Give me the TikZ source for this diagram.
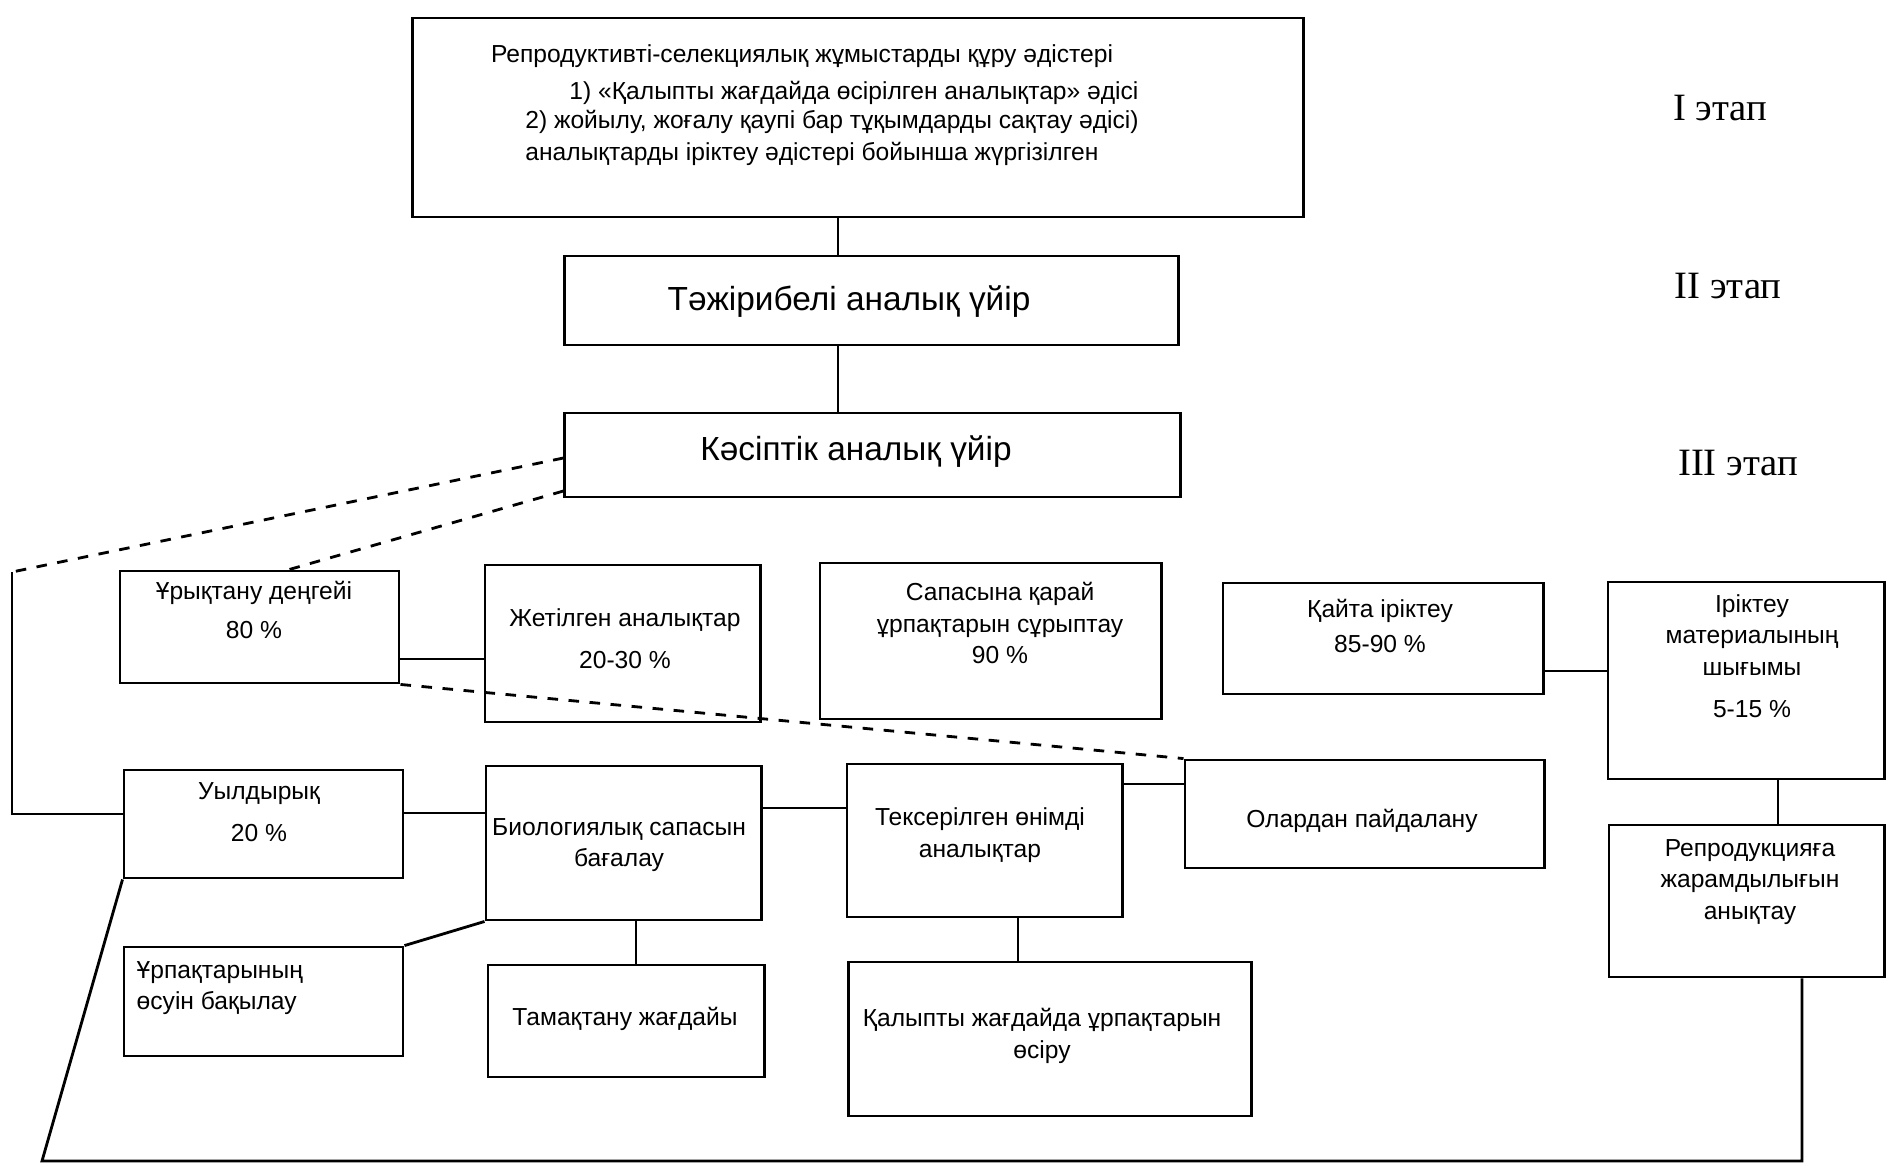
\documentclass[tikz,border=0pt]{standalone}
\usepackage{fontspec}
\setmainfont{Liberation Serif}
\newfontfamily\boxfont{Liberation Sans}
\usepackage{tikz}
\usetikzlibrary{positioning}
\tikzset{>=stealth}
\tikzset{
	box/.style={draw, line width=0.8pt, inner sep=0pt},
	txt/.style={font=\boxfont\fontsize{7}{9}\selectfont, align=center, inner sep=0pt},
	bigtxt/.style={font=\boxfont\fontsize{9.5}{11}\selectfont, inner sep=0pt},
	stage/.style={font=\fontsize{11}{13}\selectfont, inner sep=0pt},
	link/.style={line width=0.8pt},
	dlink/.style={line width=0.8pt, dashed}
}

\begin{document}
\begin{tikzpicture}[x=0.01cm, y=-0.01cm]
			\useasboundingbox (0,0) rectangle (1886,1169);
			% boxes
			\node[box, minimum width=8.90cm, minimum height=1.99cm] (top) at (858,117.5) {};
			\node[box, minimum width=6.13cm, minimum height=0.89cm] (tep) at (871.5,300.5) {};
			\node[box, minimum width=6.15cm, minimum height=0.84cm] (kas) at (872.5,455) {};
			\node[box, minimum width=2.79cm, minimum height=1.12cm] (uryq) at (259.5,627) {};
			\node[box, minimum width=2.75cm, minimum height=1.57cm] (zhet) at (622.5,643.5) {};
			\node[box, minimum width=3.41cm, minimum height=1.56cm] (sapa) at (990.5,641) {};
			\node[box, minimum width=3.20cm, minimum height=1.11cm] (qayta) at (1383,638.5) {};
			\node[box, minimum width=2.76cm, minimum height=1.97cm] (irik) at (1746,680.5) {};
			\node[box, minimum width=2.75cm, minimum height=1.52cm] (repr) at (1746.5,901) {};
			\node[box, minimum width=2.79cm, minimum height=1.08cm] (uyl) at (263.5,824) {};
			\node[box, minimum width=2.75cm, minimum height=1.54cm] (biol) at (623.5,843) {};
			\node[box, minimum width=2.75cm, minimum height=1.53cm] (teks) at (984.5,840.5) {};
			\node[box, minimum width=3.59cm, minimum height=1.08cm] (olar) at (1364.5,814) {};
			\node[box, minimum width=2.79cm, minimum height=1.09cm] (osu) at (263.5,1001.5) {};
			\node[box, minimum width=2.76cm, minimum height=1.12cm] (tamaq) at (626,1021) {};
			\node[box, minimum width=4.02cm, minimum height=1.54cm] (qalyp) at (1050,1039) {};
			% texts
			\node[txt] (t1) at (802,56.5) {Репродуктивті-селекциялық жұмыстарды құру әдістері};
			\node[txt] (t2) at (854,92.6) {1) «Қалыпты жағдайда өсірілген аналықтар» әдісі};
			\node[txt] (t3) at (832,121.5) {2) жойылу, жоғалу қаупі бар тұқымдарды сақтау әдісі)};
			\node[txt] (t4) at (812,154) {аналықтарды іріктеу әдістері бойынша жүргізілген};
			\node[bigtxt] (teptxt) at (849,302) {Тәжірибелі аналық үйір};
			\node[bigtxt] (kastxt) at (856,452) {Кәсіптік аналық үйір};
			\node[txt] (uryqtxt) at (254,610) {Ұрықтану деңгейі\\[2pt]80 \%};
			\node[txt] (zhettxt) at (625,639) {Жетілген аналықтар\\[3pt]20-30 \%};
			\node[txt] (sapatxt) at (1000,623) {Сапасына қарай\\ұрпақтарын сұрыптау\\90 \%};
			\node[txt] (qaytatxt) at (1380,626) {Қайта іріктеу\\[1pt]85-90 \%};
			\node[txt] (iriktxt) at (1752,656) {Іріктеу\\материалының\\шығымы\\[3pt]5-15 \%};
			\node[txt] (reprtxt) at (1750,882) {Репродукцияға\\жарамдылығын\\анықтау};
			\node[txt] (uyltxt) at (259,812) {Уылдырық\\[3pt]20 \%};
			\node[txt] (bioltxt) at (619,845) {Биологиялық сапасын\\бағалау};
			\node[txt] (tekstxt) at (980,835) {Тексерілген өнімді\\аналықтар};
			\node[txt] (olartxt) at (1362,821) {Олардан пайдалану};
			\node[txt, align=left, anchor=west] (osutxt) at (136,988) {Ұрпақтарының\\өсуін бақылау};
			\node[txt] (tamaqtxt) at (625,1019) {Тамақтану жағдайы};
			\node[txt] (qalyptxt) at (1042,1036) {Қалыпты жағдайда ұрпақтарын\\өсіру};
			\node[stage] (s1) at (1720,108) {I этап};
			\node[stage] (s2) at (1728,286) {II этап};
			\node[stage] (s3) at (1738,463) {III этап};
			% connectors
			\coordinate (mid) at (838,0);
			\coordinate (lb1) at (12,572);
			\coordinate (lb2) at (12,814);
			\coordinate (bl1) at (1802,1161);
			\coordinate (bl2) at (42,1161);
			\draw[link] (top.south -| mid) -- (tep.north -| mid);
			\draw[link] (tep.south -| mid) -- (kas.north -| mid);
			\draw[dlink] (kas.west |- 0,458) -- (lb1);
			\draw[link] (lb1) -- (lb2) -- (uyl.west |- lb2);
			\draw[dlink] (kas.west |- 0,491) -- (uryq.north -| 289,0);
			\draw[link] (uryq.east |- 0,659) -- (zhet.west |- 0,659);
			\draw[link] (qayta.east |- 0,671) -- (irik.west |- 0,671);
			\draw[link] (irik.south -| 1778,0) -- (repr.north -| 1778,0);
			\draw[link] (repr.south -| bl1) -- (bl1) -- (bl2) -- (uyl.south west);
			\draw[dlink] (uryq.south east) -- (olar.north west);
			\draw[link] (uyl.east |- 0,813) -- (biol.west |- 0,813);
			\draw[link] (biol.east |- 0,808) -- (teks.west |- 0,808);
			\draw[link] (teks.east |- 0,784) -- (olar.west |- 0,784);
			\draw[link] (biol.south west) -- (osu.north east);
			\draw[link] (biol.south -| 636,0) -- (tamaq.north -| 636,0);
			\draw[link] (teks.south -| 1018,0) -- (qalyp.north -| 1018,0);
		\end{tikzpicture}
\end{document}
